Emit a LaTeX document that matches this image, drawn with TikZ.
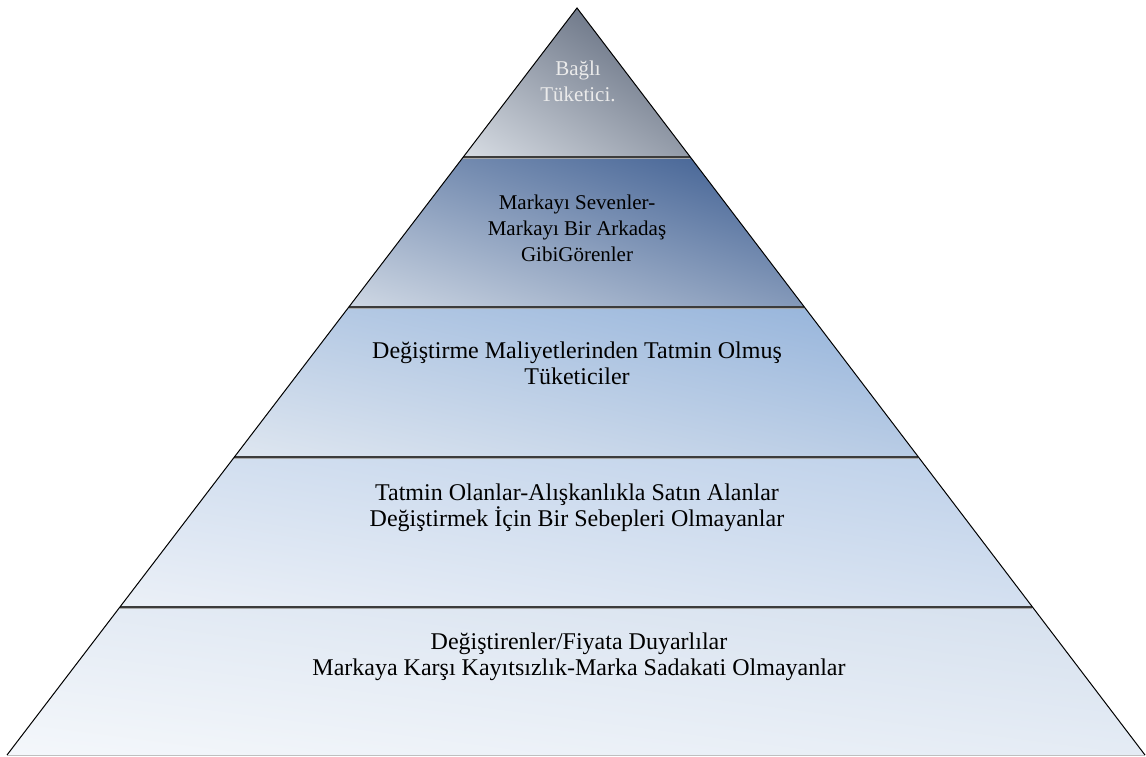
\documentclass[tikz,border=0pt]{standalone}
\usepackage{fontspec}
\setmainfont{Liberation Serif}
\usetikzlibrary{calc}
% Diagonal linear gradient over a path's bounding box:
% lower-left corner gets colour (#2,#3,#4), upper-right corner gets (#5,#6,#7).
% The inner 25bp..75bp square of the shading is stretched onto the bounding box.
\newcommand\diagshading[7]{%
  \pgfdeclarefunctionalshading{#1}{\pgfpoint{0bp}{0bp}}{\pgfpoint{100bp}{100bp}}{}{%
    add 50 sub 100 div
    dup #5 #2 sub mul #2 add exch
    dup #6 #3 sub mul #3 add exch
    #7 #4 sub mul #4 add
  }}
\diagshading{levelA}{0.847}{0.867}{0.894}{0.310}{0.353}{0.431}
\diagshading{levelB}{0.812}{0.847}{0.894}{0.220}{0.349}{0.557}
\diagshading{levelC}{0.871}{0.902}{0.941}{0.576}{0.698}{0.855}
\diagshading{levelD}{0.922}{0.941}{0.969}{0.741}{0.816}{0.914}
\diagshading{levelE}{0.957}{0.969}{0.984}{0.835}{0.878}{0.933}
\definecolor{sepDark}{HTML}{3C3C3C}\definecolor{sepLight}{HTML}{A8A8A8}
\begin{document}
\begin{tikzpicture}[x=1pt,y=-1pt,
  band/.style={shading=#1},
  sep/.style={draw=sepDark,line width=2.4pt},
  sepshadow/.style={draw=sepLight,line width=1pt},
  edge/.style={draw=black,line width=1pt},
  label/.style={align=center,inner sep=0pt,font=\fontsize{#1}{26}\selectfont},
  label/.default=24]
\useasboundingbox (0,0) rectangle (1146,756);
% corners of the pyramid
\coordinate (apex) at (577,8);
\coordinate (bl) at (7,755);
\coordinate (br) at (1145,755);
% level boundaries at y = 157, 307, 457, 607
\foreach \n/\t in {1/0.19946,2/0.40027,3/0.60107,4/0.80187}{
  \coordinate (L\n) at ($(apex)!\t!(bl)$);
  \coordinate (R\n) at ($(apex)!\t!(br)$);
}
% shaded levels
\shade[band=levelA] (apex) -- (R1) -- (L1) -- cycle;
\shade[band=levelB] (L1) -- (R1) -- (R2) -- (L2) -- cycle;
\shade[band=levelC] (L2) -- (R2) -- (R3) -- (L3) -- cycle;
\shade[band=levelD] (L3) -- (R3) -- (R4) -- (L4) -- cycle;
\shade[band=levelE] (L4) -- (R4) -- (br) -- (bl) -- cycle;
% separators between levels
\foreach \n in {1,2,3,4}{
  \draw[sepshadow] ($(L\n)+(0,1.8)$) -- ($(R\n)+(0,1.8)$);
  \draw[sep] (L\n) -- (R\n);
}
% outline
\draw[draw=black!25,line width=1pt] (bl) -- (br);
\draw[edge] (bl) -- (apex) -- (br);
% level texts
\node[label=21,text=white!92!black] (t1) at (578,81) {Bağlı\\Tüketici.};
\node[label=21] (t2) at (577,228) {Markayı Sevenler-\\Markayı Bir Arkadaş\\GibiGörenler};
\node[label] (t3) at (577,363) {Değiştirme Maliyetlerinden Tatmin Olmuş\\Tüketiciler};
\node[label] (t4) at (577,508) {Tatmin Olanlar-Alışkanlıkla Satın Alanlar\\Değiştirmek İçin Bir Sebepleri Olmayanlar};
\node[label] (t5) at (579,657) {Değiştirenler/Fiyata Duyarlılar\\Markaya Karşı Kayıtsızlık-Marka Sadakati Olmayanlar};
\end{tikzpicture}
\end{document}
